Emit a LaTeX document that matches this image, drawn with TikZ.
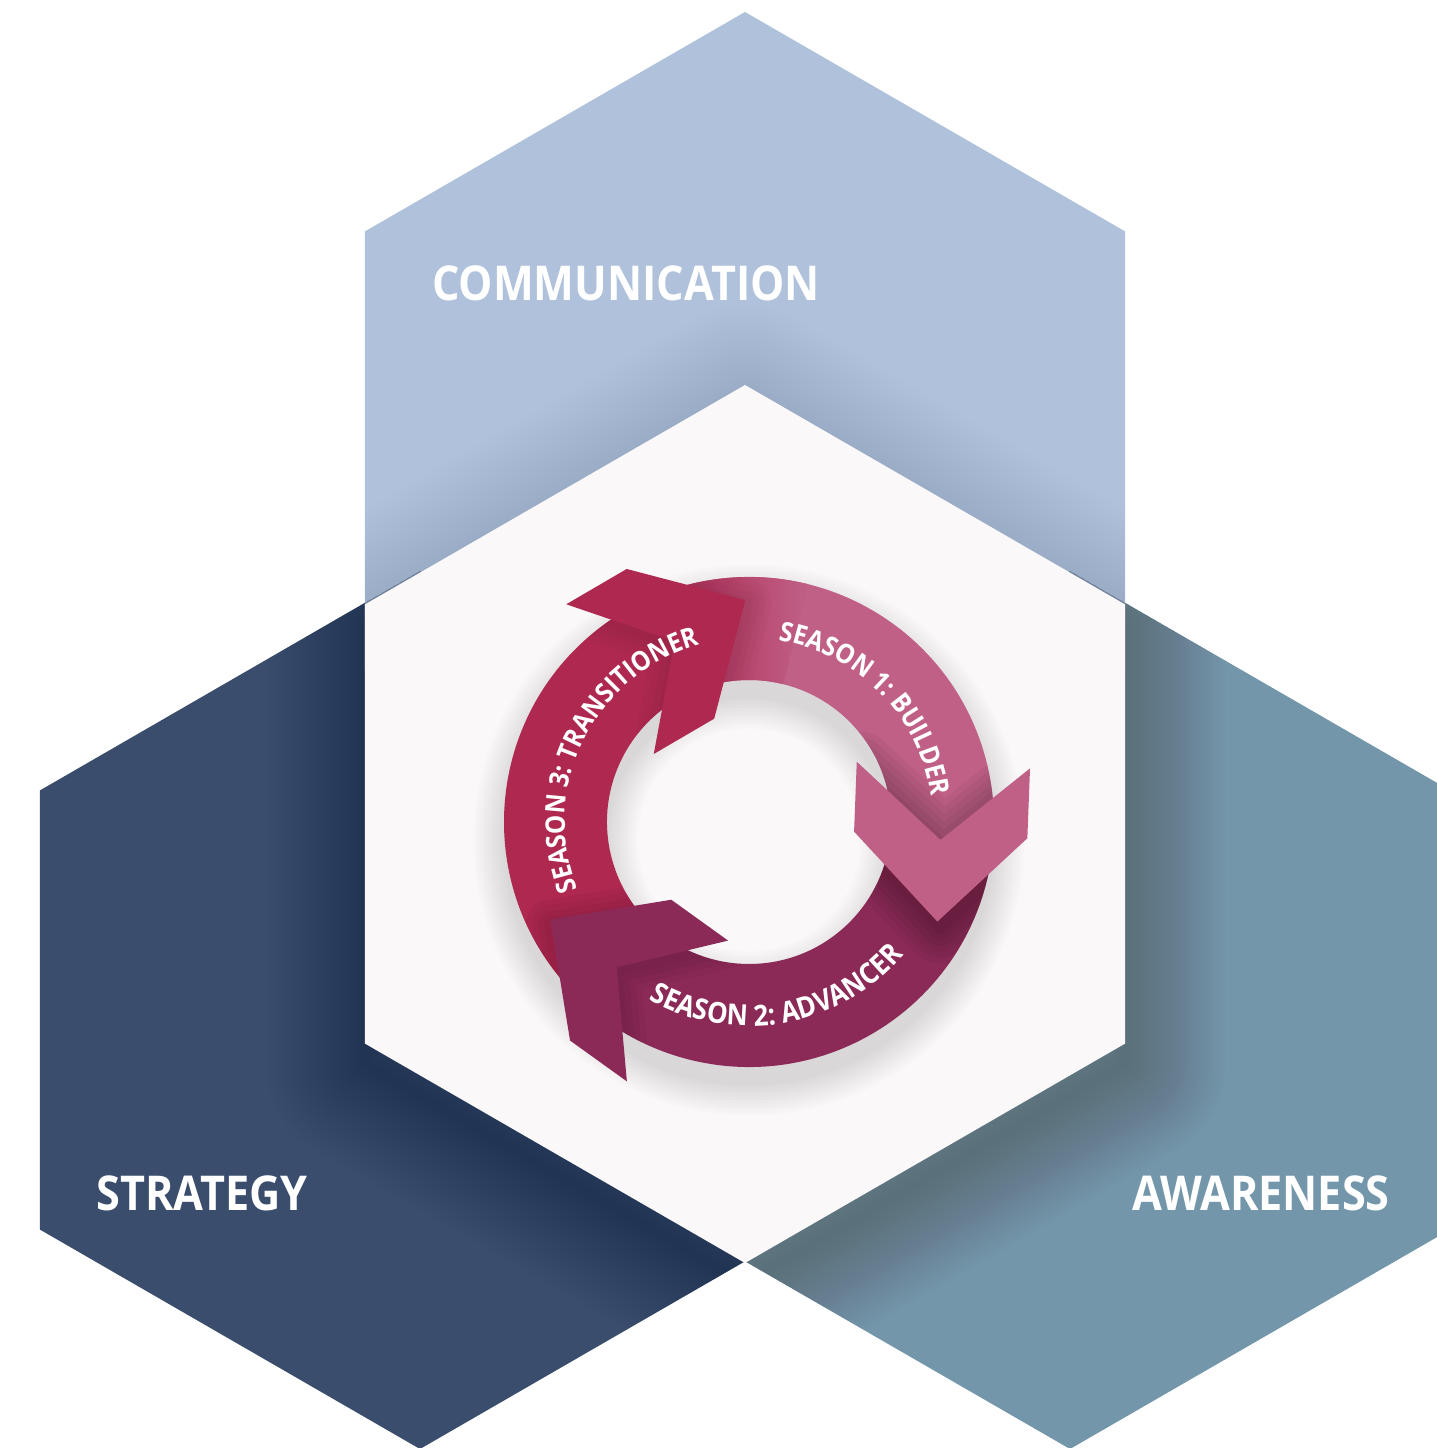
\documentclass[tikz,border=0pt]{standalone}
\usepackage{fontspec}
\newfontfamily\lblfont{Open Sans}[FakeStretch=0.9]
\usetikzlibrary{decorations.text}
\definecolor{commc}{HTML}{AFC1DB}
\definecolor{stratc}{HTML}{3A4D6C}
\definecolor{awarec}{HTML}{7396AA}
\definecolor{centerc}{HTML}{FAF8F9}
\definecolor{sOne}{HTML}{C06087}
\definecolor{sTwo}{HTML}{8C2A57}
\definecolor{sThree}{HTML}{AE2850}
\newcommand\seasonfmt{\lblfont\bfseries\fontsize{13.5}{13.5}\selectfont\color{white}}
\newcommand\seasonfmtb{\lblfont\bfseries\fontsize{14.5}{14.5}\selectfont\color{white}}
\tikzset{
  hexpath/.style 2 args={insert path={(#1,#2) +(90:439) -- +(150:439) -- +(210:439) -- +(270:439) -- +(330:439) -- +(30:439) -- cycle}},
  sector/.style n args={4}{insert path={(#1:#4) arc[start angle=#1, end angle=#2, radius=#4] -- (#2:#3) arc[start angle=#2, end angle=#1, radius=#3] -- cycle}},
  headpath/.style={insert path={(-86.7,0) -- (0,-75) -- (86.7,0) -- (86.7,-70) -- (0,-156.7) -- (-86.7,-70) -- cycle}},
  hexlabel/.style={text=white, font=\lblfont\bfseries\fontsize{24}{24}\selectfont, inner sep=0pt},
  softshadow/.style={draw=black, line join=round, opacity=#1},
}
\begin{document}
\begin{tikzpicture}[x=0.5pt, y=0.5pt]
\useasboundingbox (0,0) rectangle (1437,1448);
\fill[white] (0,0) rectangle (1437,1448);
\clip (0,0) rectangle (1437,1448);
% outer hexagons
\fill[stratc, hexpath={420}{438}];
\fill[awarec, hexpath={1070}{438}];
\fill[commc, hexpath={745}{997}];
% soft shadow of the central hexagon on the lower hexagons
\begin{scope}
  \clip (420,438) +(90:439) -- +(150:439) -- +(210:439) -- +(270:439) -- +(330:439) -- +(30:439) -- cycle
        (1070,438) +(90:439) -- +(150:439) -- +(210:439) -- +(270:439) -- +(330:439) -- +(30:439) -- cycle;
  \foreach \w in {4,8,...,100}
    \draw[softshadow=0.0065, line width=\w pt, hexpath={745}{604}];
\end{scope}
% fainter shadow on the upper hexagon
\begin{scope}
  \clip[hexpath={745}{997}];
  \foreach \w in {4,8,...,100}
    \draw[softshadow=0.0035, line width=\w pt, hexpath={745}{604}];
\end{scope}
% central hexagon
\fill[centerc, hexpath={745}{624}];
% labels
\node[hexlabel] (comm) at (626,1165) {COMMUNICATION};
\node[hexlabel] (strat) at (202,255) {STRATEGY};
\node[hexlabel] (aware) at (1261,255) {AWARENESS};
% cycle of arrows
\begin{scope}[shift={(749,626)}]
  % soft drop shadow of the ring
  \foreach \w in {52,55,...,82}
    \draw[softshadow=0.012, line width=\w pt] (0,-18) circle[radius=193.5];
  % shafts
  \fill[sThree, sector={221}{105}{142}{245}];
  \fill[sOne, sector={105}{-11}{142}{245}];
  \fill[sTwo, sector={-11}{-139}{142}{245}];
  \shade[left color=sThree!85!sOne, right color=sOne, sector={105}{76}{142}{245}];
  % shadows of the heads, only on the ring
  \begin{scope}
    \clip[sector={0}{360}{142}{245}];
    \begin{scope}[shift={(197,51)}, rotate=-2.2]
      \foreach \w in {6,12,...,36}
        \draw[softshadow=0.045, line width=\w pt, headpath];
    \end{scope}
    \begin{scope}[shift={(-71.5,-193)}, rotate=234.3]
      \foreach \w in {6,12,...,24}
        \draw[softshadow=0.03, line width=\w pt, headpath];
    \end{scope}
    \begin{scope}[shift={(-137,139)}, rotate=120.3]
      \foreach \w in {6,12,...,24}
        \draw[softshadow=0.02, line width=\w pt, headpath];
    \end{scope}
  \end{scope}
  % head of season 1
  \begin{scope}[shift={(194.4,57)}, rotate=-2.2]
    \fill[sOne, headpath];
  \end{scope}
  % head of season 2
  \begin{scope}[shift={(-71.5,-189)}, rotate=234.3]
    \fill[sTwo, headpath];
  \end{scope}
  % head of season 3
  \begin{scope}[shift={(-139,142.85)}, rotate=120.3]
    \fill[sThree, headpath];
  \end{scope}
  % texts on the arrows
  \path[decorate, decoration={text along path, text align=center,
      text={|\seasonfmt|SEASON 1: BUILDER}}]
    (97:184) arc[start angle=97, end angle=-8, radius=184];
  \path[decorate, decoration={text along path, text align=center,
      text={|\seasonfmtb|SEASON 2: ADVANCER}}]
    (-135:204) arc[start angle=-135, end angle=-25, radius=204];
  \path[decorate, decoration={text along path, text align=center,
      text={|\seasonfmt|SEASON 3: TRANSITIONER}}]
    (233.5:184) arc[start angle=233.5, end angle=73.5, radius=184];
\end{scope}
\end{tikzpicture}
\end{document}
